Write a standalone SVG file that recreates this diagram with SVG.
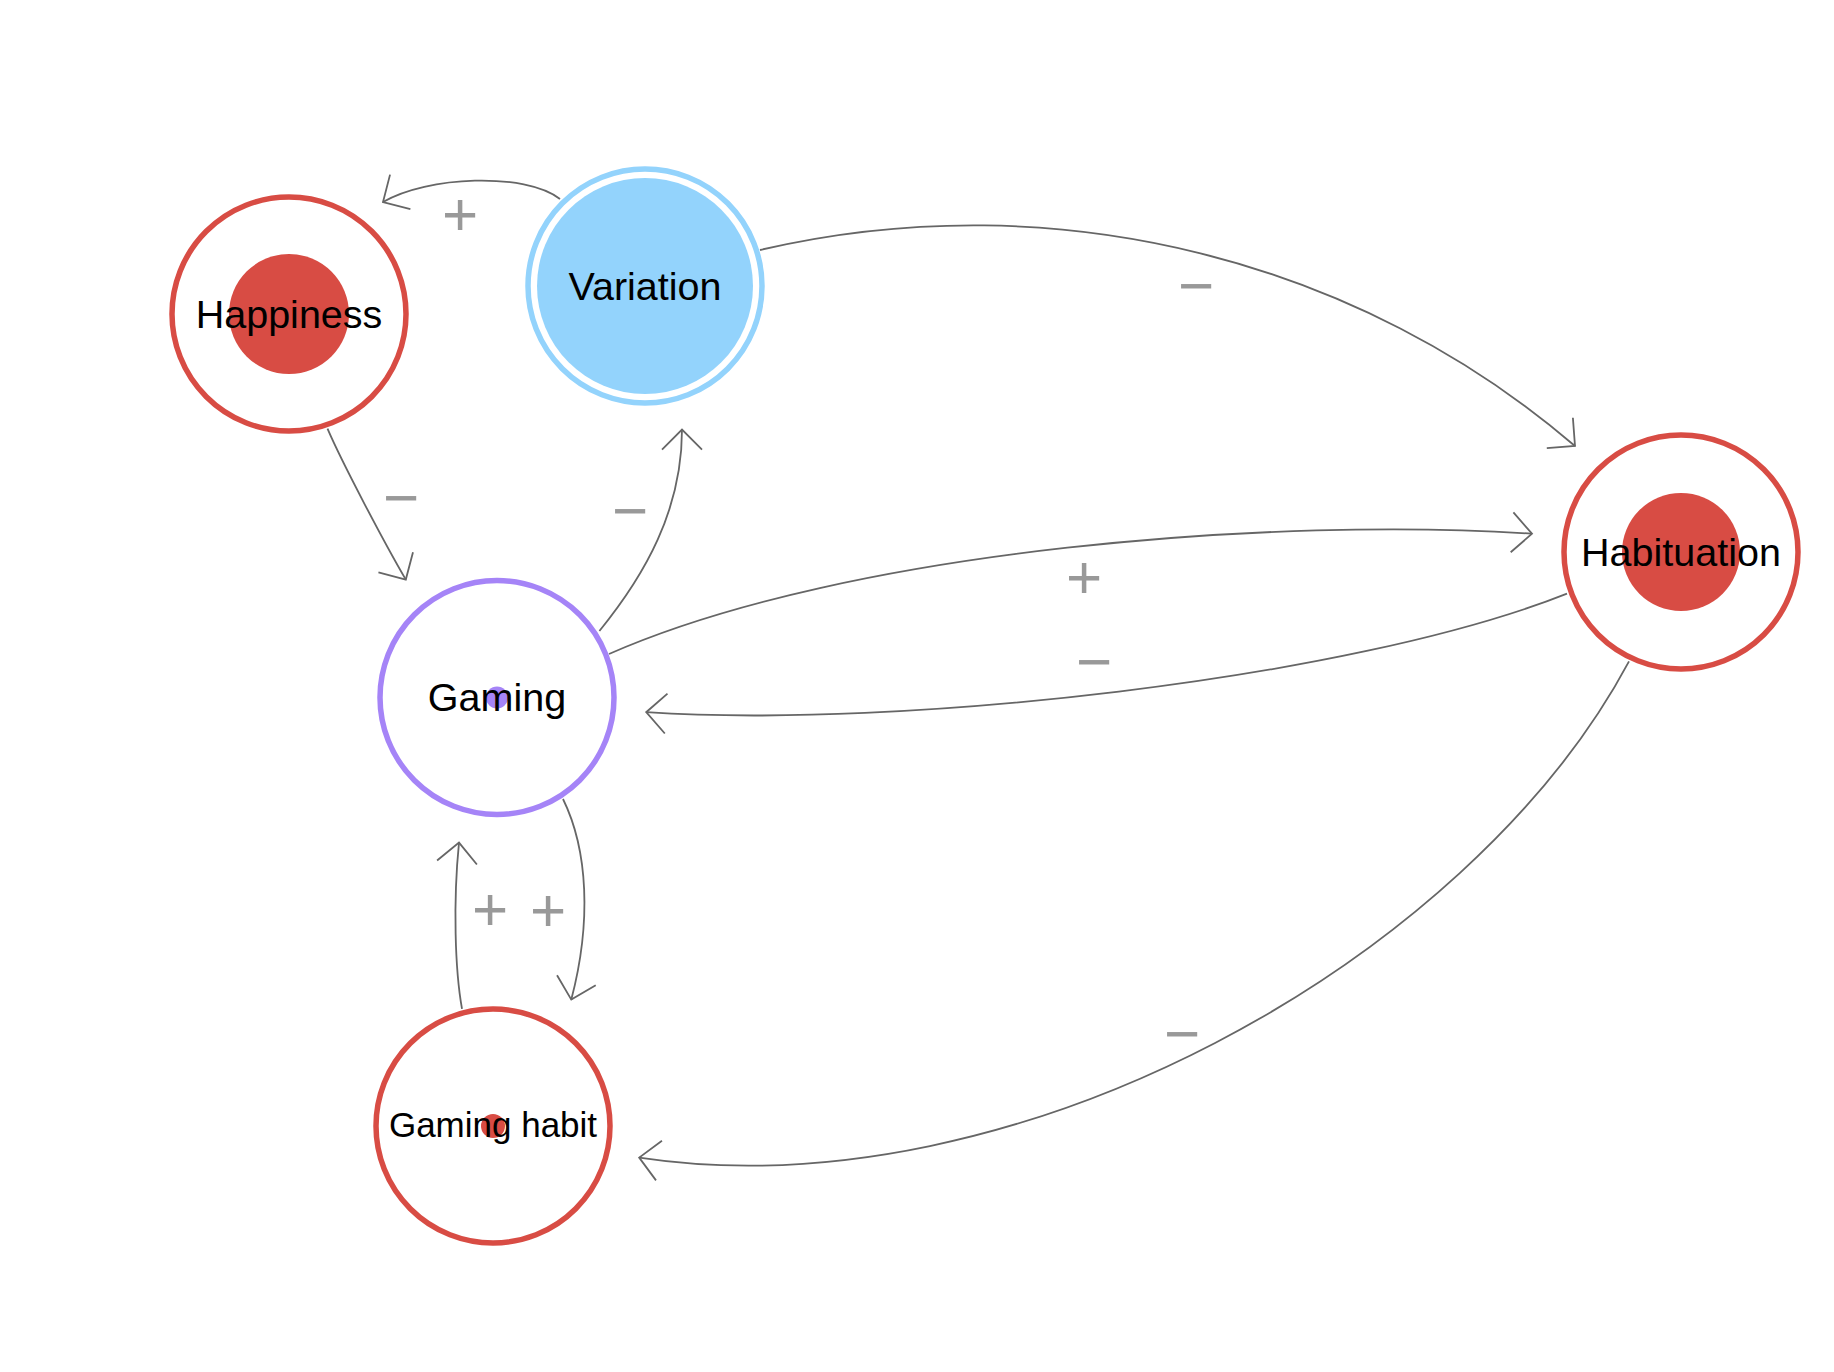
<svg xmlns="http://www.w3.org/2000/svg" width="1834" height="1372" viewBox="0 0 1834 1372">
<style>
.edge{fill:none;stroke:#666;stroke-width:1.8;marker-end:url(#arr)}
.lbl{font-family:"Liberation Sans",Arial,sans-serif;font-size:62px;fill:#999;text-anchor:middle}
.name{font-family:"Liberation Sans",Arial,sans-serif;font-size:39.5px;fill:#000;text-anchor:middle}
.small{font-size:35px}
.ring{fill:#fff;stroke-width:5.5}
.red{stroke:#d84c44}
.redfill{fill:#d84c44}
</style>
<defs>
<marker id="arr" viewBox="-25 -25 30 50" markerWidth="30" markerHeight="50" refX="0" refY="0" orient="auto" markerUnits="userSpaceOnUse" overflow="visible">
<path d="M-20,-20 L0,0 L-20,20" fill="none" stroke="#666" stroke-width="1.8"/>
</marker>
</defs>
<rect width="1834" height="1372" fill="#fff"/>
<g id="connectors">
<path class="edge" d="M560,199 C525,172 427,176 383,202"/>
<path class="edge" d="M760,250 C1060,180 1362.8,263.4 1575,446"/>
<path class="edge" d="M327.5,428.7 C342.5,463.7 385.6,545 405.8,579.6"/>
<path class="edge" d="M599.4,631 C645,575 682,510 682,429.6"/>
<path class="edge" d="M609,654 C850,548 1282.5,516.7 1532,533.7"/>
<path class="edge" d="M1567,593.6 C1350,680 895.7,729 646.2,712.2"/>
<path class="edge" d="M563,799 C588,850 591.6,922.2 571.3,999.6"/>
<path class="edge" d="M462,1008.8 C455,970 453,902.3 459,842.6"/>
<path class="edge" d="M1629,661.4 C1469.2,960.6 1015,1214.2 639.2,1157.6"/>
</g>
<g id="labels">
<text class="lbl" x="460" y="235">+</text>
<text class="lbl" x="1196" y="307">−</text>
<text class="lbl" x="401" y="519">−</text>
<text class="lbl" x="630" y="532">−</text>
<text class="lbl" x="1084" y="598">+</text>
<text class="lbl" x="1094" y="683">−</text>
<text class="lbl" x="548" y="931">+</text>
<text class="lbl" x="490" y="930">+</text>
<text class="lbl" x="1182" y="1055">−</text>
</g>
<g id="node-happiness">
<circle class="ring red" cx="289" cy="314" r="117"/>
<circle class="redfill" cx="289" cy="314" r="60"/>
<text class="name" x="289" y="328">Happiness</text>
</g>
<g id="node-variation">
<circle cx="645" cy="286" r="117" fill="#fff" stroke="#93d3fc" stroke-width="5.5"/>
<circle cx="645" cy="286" r="108" fill="#93d3fc"/>
<text class="name" x="645" y="300">Variation</text>
</g>
<g id="node-gaming">
<circle class="ring" cx="497" cy="697.5" r="117" stroke="#a584f7"/>
<circle cx="497" cy="697.5" r="11" fill="#a584f7"/>
<text class="name" x="497" y="711">Gaming</text>
</g>
<g id="node-gaming-habit">
<circle class="ring red" cx="493" cy="1126" r="117"/>
<circle class="redfill" cx="493" cy="1126" r="12"/>
<text class="name small" x="493" y="1137">Gaming habit</text>
</g>
<g id="node-habituation">
<circle class="ring red" cx="1681" cy="552" r="117"/>
<circle class="redfill" cx="1681" cy="552" r="59"/>
<text class="name" x="1681" y="566">Habituation</text>
</g>
</svg>
